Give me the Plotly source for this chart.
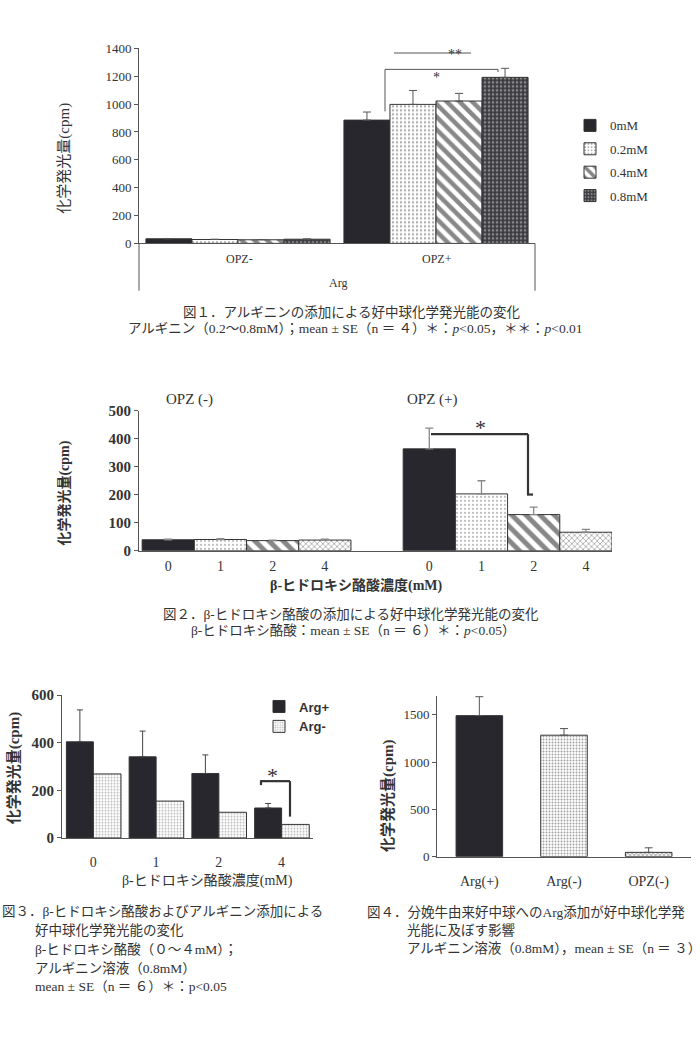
import plotly.graph_objects as go

W, H = 700, 1060

# ---------------- DATA ----------------
# Fig 1
f1_groups = ["OPZ-", "OPZ+"]
f1_series = ["0mM", "0.2mM", "0.4mM", "0.8mM"]
f1_values = {
    "0mM": [33, 885],
    "0.2mM": [28, 998],
    "0.4mM": [26, 1022],
    "0.8mM": [30, 1192],
}
f1_err = {
    "0mM": [2, 58],
    "0.2mM": [2, 100],
    "0.4mM": [2, 55],
    "0.8mM": [2, 65],
}
f1_yticks = [0, 200, 400, 600, 800, 1000, 1200, 1400]

# Fig 2
f2_doses = ["0", "1", "2", "4"]
f2_opz_minus = [39, 40, 36, 38]
f2_opz_minus_err = [2, 3, 2, 3]
f2_opz_plus = [364, 203, 129, 66]
f2_opz_plus_err = [74, 47, 27, 10]
f2_yticks = [0, 100, 200, 300, 400, 500]

# Fig 3
f3_doses = ["0", "1", "2", "4"]
f3_arg_plus = [404, 341, 271, 126]
f3_arg_plus_err = [134, 108, 78, 19]
f3_arg_minus = [269, 155, 108, 57]
f3_yticks = [0, 200, 400, 600]

# Fig 4
f4_cats = ["Arg(+)", "Arg(-)", "OPZ(-)"]
f4_values = [1492, 1285, 46]
f4_err = [200, 70, 48]
f4_yticks = [0, 500, 1000, 1500]


def px(x):
    return x / W


def py(y):
    return 1 - y / H


SERIF = "Liberation Serif, Noto Sans CJK JP"
TXT = "#333333"
DARK = "#27272d"
CAP = 13.5

fig = go.Figure()

# ---------------- FIG 1 ----------------
f1_patterns = {
    "0mM": dict(shape=""),
    "0.2mM": dict(shape=".", fgcolor="#555555", bgcolor="white", size=4, solidity=0.25),
    "0.4mM": dict(shape="\\", fgcolor="#111111", bgcolor="white", size=9, solidity=0.5),
    "0.8mM": dict(shape=".", fgcolor="#d8d8d8", bgcolor="#3c3c40", size=4, solidity=0.35),
}
bw1 = 0.93 / 4
for i, s in enumerate(f1_series):
    fig.add_trace(go.Bar(
        x=f1_groups, y=f1_values[s], name=s, legendgroup=s,
        width=bw1, offset=-0.465 + i * bw1,
        marker=dict(color=DARK if s == "0mM" else "white",
                    line=dict(color="#333", width=1),
                    pattern=f1_patterns[s]),
        error_y=dict(type="data", array=f1_err[s], arrayminus=[0, 0], symmetric=False,
                     color="#555", thickness=1, width=4),
        xaxis="x", yaxis="y", legend="legend",
    ))

# ---------------- FIG 2 ----------------
f2_pats = [
    dict(shape=""),
    dict(shape=".", fgcolor="#666666", bgcolor="white", size=4, solidity=0.22),
    dict(shape="\\", fgcolor="#111111", bgcolor="white", size=10, solidity=0.5),
    dict(shape="x", fgcolor="#444444", bgcolor="white", size=4, solidity=0.35),
]
f2_colors = [DARK, "white", "white", "white"]
x_minus = [i for i in range(len(f2_doses))]
x_plus = [i + len(f2_doses) + 1 for i in range(len(f2_doses))]
for i in range(len(f2_doses)):
    for xs, vals, errs in ((x_minus, f2_opz_minus, f2_opz_minus_err),
                           (x_plus, f2_opz_plus, f2_opz_plus_err)):
        fig.add_trace(go.Bar(
            x=[xs[i]], y=[vals[i]], width=1.0, showlegend=False,
            marker=dict(color=f2_colors[i], line=dict(color="#333", width=1),
                        pattern=f2_pats[i]),
            error_y=dict(type="data", array=[errs[i]], arrayminus=[0], symmetric=False,
                         color="#888", thickness=1.3, width=4),
            xaxis="x2", yaxis="y2",
        ))

# ---------------- FIG 3 ----------------
fig.add_trace(go.Bar(
    x=f3_doses, y=f3_arg_plus, name="Arg+", width=0.43, offset=-0.43,
    marker=dict(color=DARK, line=dict(color="#333", width=1)),
    error_y=dict(type="data", array=f3_arg_plus_err, arrayminus=[0] * 4, symmetric=False,
                 color="#444", thickness=1, width=3),
    xaxis="x3", yaxis="y3", legend="legend2",
))
fig.add_trace(go.Bar(
    x=f3_doses, y=f3_arg_minus, name="Arg-", width=0.44, offset=0.0,
    marker=dict(color="white", line=dict(color="#333", width=1),
                pattern=dict(shape=".", fgcolor="#777777", bgcolor="white", size=3, solidity=0.35)),
    xaxis="x3", yaxis="y3", legend="legend2",
))

# ---------------- FIG 4 ----------------
fig.add_trace(go.Bar(
    x=f4_cats, y=f4_values, width=0.55, showlegend=False,
    marker=dict(color=[DARK, "white", "white"], line=dict(color="#333", width=1),
                pattern=dict(shape=["", ".", "x"],
                             fgcolor=[DARK, "#777777", "#222222"],
                             bgcolor=[DARK, "white", "#888888"],
                             size=[4, 3, 3], solidity=[0.3, 0.35, 0.5])),
    error_y=dict(type="data", array=f4_err, arrayminus=[0] * 3, symmetric=False,
                 color="#555", thickness=1, width=4),
    xaxis="x4", yaxis="y4",
))

# ---------------- AXES ----------------
def yax(domain, rng, tickvals, font, anchor):
    return dict(domain=domain, range=rng, tickvals=tickvals, showgrid=False, zeroline=False,
                showline=True, linecolor="#555", linewidth=1, ticks="outside", ticklen=4,
                tickcolor="#555", tickfont=font, anchor=anchor, fixedrange=True)


fig.update_layout(
    width=W, height=H, margin=dict(l=0, r=0, t=0, b=0),
    paper_bgcolor="white", plot_bgcolor="white",
    barmode="overlay",
    # Fig1
    xaxis=dict(domain=[px(139), px(535)], range=[-0.5, 1.5], showticklabels=False, ticks="",
               showline=True, linecolor="#555", linewidth=1, showgrid=False, anchor="y"),
    yaxis=yax([py(239), py(41)], [0, 1400], f1_yticks,
              dict(family=SERIF, size=13, color=TXT), "x"),
    # Fig2
    xaxis2=dict(domain=[px(139), px(612)], range=[-0.56, 8.5],
                tickvals=x_minus + x_plus, ticktext=f2_doses + f2_doses, ticks="",
                ticklabelstandoff=3,
                tickfont=dict(family=SERIF, size=14, color=TXT),
                showline=True, linecolor="#555", linewidth=1, showgrid=False, anchor="y2"),
    yaxis2=yax([py(551), py(409)], [0, 500], f2_yticks,
               dict(family=SERIF, size=15, color=TXT, weight="bold"), "x2"),
    # Fig3
    xaxis3=dict(domain=[px(62), px(313)], range=[-0.5, 3.5], ticks="",
                ticklabelstandoff=11,
                tickfont=dict(family=SERIF, size=14, color=TXT),
                showline=True, linecolor="#555", linewidth=1, showgrid=False, anchor="y3"),
    yaxis3=yax([py(842.7), py(697.7)], [0, 600], f3_yticks,
               dict(family=SERIF, size=15, color=TXT, weight="bold"), "x3"),
    # Fig4
    xaxis4=dict(domain=[px(437), px(691)], range=[-0.5, 2.5], ticks="",
                ticklabelstandoff=12,
                tickfont=dict(family=SERIF, size=14, color=TXT),
                showline=True, linecolor="#555", linewidth=1, showgrid=False, anchor="y4"),
    yaxis4=yax([py(861.7), py(698.5)], [0, 1700], f4_yticks,
               dict(family=SERIF, size=13, color=TXT), "x4"),
    legend=dict(x=px(570), y=py(104), xanchor="left", yanchor="top",
                font=dict(family=SERIF, size=13, color=TXT), tracegroupgap=3.5,
                itemwidth=30, bgcolor="rgba(0,0,0,0)"),
    legend2=dict(x=px(259), y=py(694), xanchor="left", yanchor="top",
                 font=dict(family="Liberation Sans", size=13, color=TXT, weight="bold"),
                 itemwidth=30, bgcolor="rgba(0,0,0,0)"),
)

shapes = []
annos = []


def line(x0, y0, x1, y1, color="#333", width=1):
    shapes.append(dict(type="line", xref="paper", yref="paper",
                       x0=px(x0), y0=py(y0), x1=px(x1), y1=py(y1),
                       line=dict(color=color, width=width)))


def text(x, y, t, size=12, family=SERIF, xanchor="center", weight="normal", color=TXT, angle=0):
    annos.append(dict(xref="paper", yref="paper", x=px(x), y=py(y), text=t,
                      showarrow=False, xanchor=xanchor, yanchor="middle", textangle=angle,
                      font=dict(family=family, size=size, color=color, weight=weight)))


# Fig1 decorations
line(139, 239, 139, 287, "#555")
line(535, 239, 535, 287, "#555")
text(239, 255, "OPZ-", 12)
text(437, 255, "OPZ+", 12)
text(338, 279, "Arg", 12)
line(394, 45.7, 471, 45.7, "#555")
text(455, 47, "**", 14)
line(385, 62.3, 498, 62.3, "#555")
line(385, 62.3, 385, 105, "#555")
line(498, 62.3, 498, 65, "#555")
text(436, 71, "*", 14)
text(65, 153, "化学発光量(cpm)", 15, family=SERIF, angle=-90)
text(351, 309, "図１．アルギニンの添加による好中球化学発光能の変化", CAP)
text(355, 325, "アルギニン（0.2〜0.8mM）；mean ± SE（n ＝ ４）＊：<i>p</i>&lt;0.05，＊＊：<i>p</i>&lt;0.01", CAP)

# Fig2 decorations
text(190, 397, "OPZ (-)", 15)
text(432, 397, "OPZ (+)", 15)
text(356, 586, "β-ヒドロキシ酪酸濃度(mM)", 14, weight="bold")
text(65, 493, "化学発光量(cpm)", 14, weight="bold", angle=-90)
line(431, 432.7, 528, 432.7, "#333", 2.2)
line(528, 432.7, 528, 494, "#333", 2.2)
line(527, 494, 533, 494, "#333", 2.2)
text(480, 426, "*", 22)
text(351, 616, "図２．β-ヒドロキシ酪酸の添加による好中球化学発光能の変化", CAP)
text(354, 632, "β-ヒドロキシ酪酸：mean ± SE（n ＝ ６）＊：<i>p</i>&lt;0.05）", CAP)

# Fig3 decorations
text(207, 886, "β-ヒドロキシ酪酸濃度(mM)", 14)
text(14, 772, "化学発光量(cpm)", 15, weight="bold", angle=-90)
line(261, 785, 290, 785, "#333", 2.2)
line(261, 784, 261, 789, "#333", 2.2)
line(290, 785, 290, 821, "#333", 2.2)
text(272, 779, "*", 22)
cap3 = ["好中球化学発光能の変化", "β-ヒドロキシ酪酸（０〜４mM）；",
        "アルギニン溶液（0.8mM）", "mean ± SE（n ＝ ６）＊：p&lt;0.05"]
text(0, 917, "図３．β-ヒドロキシ酪酸およびアルギニン添加による", CAP, xanchor="left")
for yy, t in zip([937, 956, 975, 994], cap3):
    text(33, yy, t, CAP, xanchor="left")

# Fig4 decorations
text(388, 800, "化学発光量(cpm)", 15, weight="bold", angle=-90)
text(365, 918, "図４．分娩牛由来好中球へのArg添加が好中球化学発", CAP, xanchor="left")
text(405, 937, "光能に及ぼす影響", CAP, xanchor="left")
text(405, 955, "アルギニン溶液（0.8mM），mean ± SE（n ＝ ３）", CAP, xanchor="left")

fig.update_layout(shapes=shapes, annotations=annos)
fig.write_html("out.html")
